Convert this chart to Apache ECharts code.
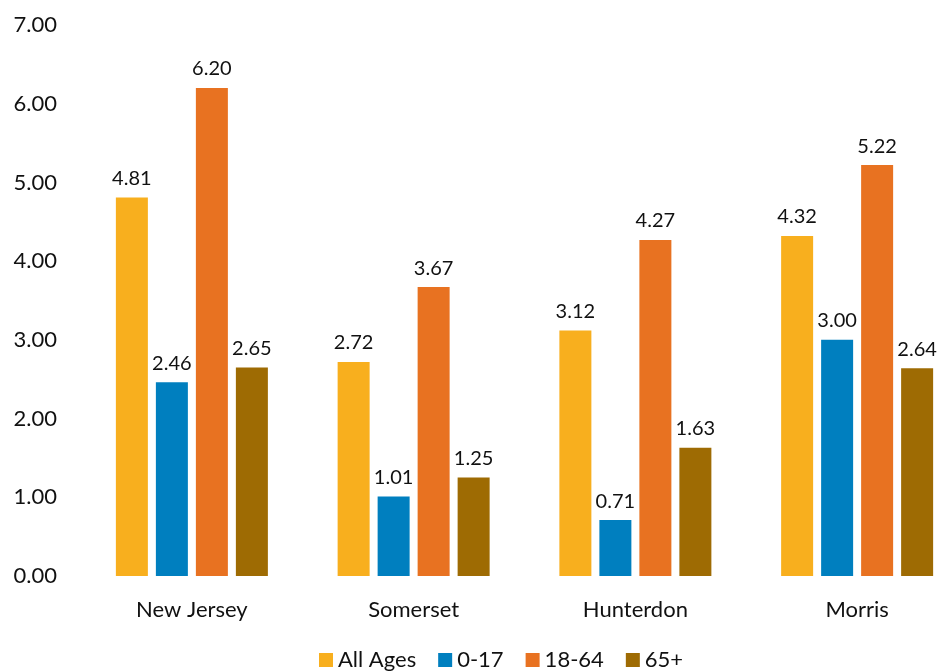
<!DOCTYPE html>
<html>
<head>
<meta charset="utf-8">
<script src="https://cdn.jsdelivr.net/npm/echarts@6/dist/echarts.min.js"></script>
<style>html,body{margin:0;padding:0;background:#fff;overflow:hidden}#c{width:968px;height:671px}</style>
</head>
<body>
<div id="c"></div>
<script>
var categories = ['New Jersey', 'Somerset', 'Hunterdon', 'Morris'];
var seriesNames = ['All Ages', '0-17', '18-64', '65+'];
var allAges = [4.81, 2.72, 3.12, 4.32];
var age0to17 = [2.46, 1.01, 0.71, 3.00];
var age18to64 = [6.20, 3.67, 4.27, 5.22];
var age65plus = [2.65, 1.25, 1.63, 2.64];
var colors = ['#F8AF1E', '#007FBF', '#E87221', '#9E6B03'];
var FONT = 'Lato, "Open Sans", sans-serif';

var chart = echarts.init(document.getElementById('c'), null, {renderer: 'canvas'});
var datas = [allAges, age0to17, age18to64, age65plus];
var series = datas.map(function (d, i) {
  return {
    name: seriesNames[i],
    type: 'bar',
    data: d,
    barWidth: 32,
    barGap: '25%',
    itemStyle: {color: colors[i]},
    label: {
      show: true, position: 'top', distance: 9,
      formatter: function (p) { return p.value.toFixed(2); },
      fontFamily: FONT, fontSize: 20, color: '#111'
    }
  };
});
chart.setOption({
  animation: false,
  color: colors,
  grid: {left: 81, right: 0, top: 25, bottom: 95, containLabel: false},
  legend: {
    data: seriesNames,
    left: 314, top: 644,
    itemWidth: 14, itemHeight: 14, itemGap: 22, itemTextGap: 6,
    icon: 'rect',
    textStyle: {fontFamily: FONT, fontSize: 22, color: '#111'}
  },
  xAxis: {
    type: 'category',
    data: categories,
    axisLine: {show: false},
    axisTick: {show: false},
    axisLabel: {fontFamily: FONT, fontSize: 22, color: '#111', margin: 23}
  },
  yAxis: {
    type: 'value', min: 0, max: 7, interval: 1,
    axisLine: {show: false}, axisTick: {show: false},
    splitLine: {show: false},
    axisLabel: {
      fontFamily: FONT, fontSize: 22, color: '#111', margin: 24,
      formatter: function (v) { return v.toFixed(2); }
    }
  },
  series: series
});
</script>
</body>
</html>
